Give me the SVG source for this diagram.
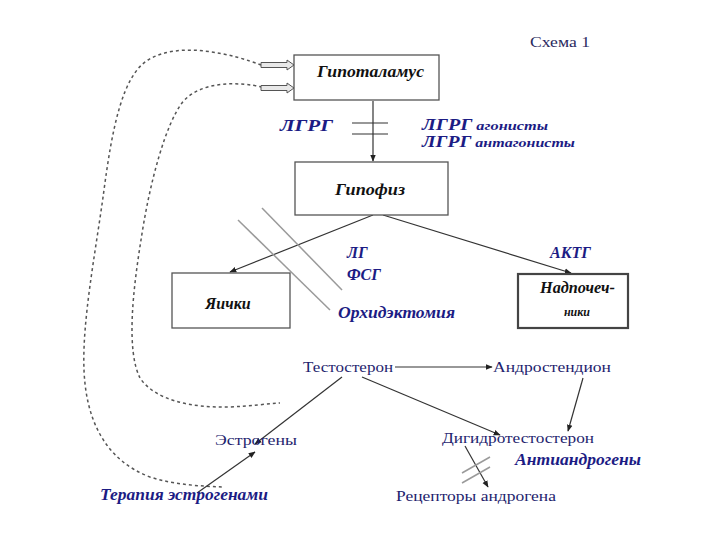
<svg xmlns="http://www.w3.org/2000/svg" width="720" height="540" viewBox="0 0 720 540">
<defs>
<style>
.box{fill:#fff;stroke:#555;stroke-width:1.3}
.boxb{fill:#fff;stroke:#444;stroke-width:2.2}
.bt{font-family:"Liberation Serif",serif;font-weight:bold;font-style:italic;font-size:16px;fill:#111}
.lb{font-family:"Liberation Serif",serif;font-weight:bold;font-style:italic;font-size:16px;fill:#1c1c84}
.rt{font-family:"Liberation Serif",serif;font-size:15px;fill:#1e1e6e}
.ln{fill:none;stroke:#333;stroke-width:1.2}
.gr{fill:none;stroke:#9a9a9a;stroke-width:1.5}
.ds{fill:none;stroke:#555;stroke-width:1.5;stroke-dasharray:3 3}
.ha{fill:#e8e8e8;stroke:#555;stroke-width:1}
</style>
<marker id="ar" viewBox="0 0 10 10" refX="9" refY="5" markerWidth="7" markerHeight="7" markerUnits="userSpaceOnUse" orient="auto">
<path d="M0,1 L10,5 L0,9 z" fill="#222"/>
</marker>
</defs>
<rect width="720" height="540" fill="#fff"/>

<text x="530" y="47" class="rt" style="font-size:15px;fill:#2a2a60" textLength="60" lengthAdjust="spacingAndGlyphs">Схема 1</text>

<g id="connectors">
<path class="ds" d="M261,65 C235,55 180,40 148,60 C122,76 112,130 104,190 C96,250 82,320 84,370 C86,420 105,460 150,477 C175,485 200,486 222,487"/>
<path class="ds" d="M262,87 C240,82 200,80 182,103 C166,124 150,180 141,240 C133,290 126,350 140,378 C155,400 190,408 230,407 C250,406 265,404 280,403"/>
<polygon class="ha" points="261,62.5 287,62.5 287,60 294,65 287,70 287,67.5 261,67.5"/>
<polygon class="ha" points="261,85.5 287,85.5 287,83 294,88 287,93 287,90.5 261,90.5"/>
<line class="ln" x1="373" y1="101" x2="373" y2="161" marker-end="url(#ar)"/>
<line class="ln" x1="352" y1="123" x2="388" y2="123"/>
<line class="ln" x1="352" y1="134" x2="388" y2="134"/>
<line class="ln" x1="373" y1="215" x2="230" y2="272" marker-end="url(#ar)"/>
<line class="ln" x1="383" y1="215" x2="571" y2="273" marker-end="url(#ar)"/>
<line class="gr" x1="238" y1="220" x2="330" y2="310"/>
<line class="gr" x1="262" y1="208" x2="342" y2="290"/>
<line class="ln" x1="395" y1="367" x2="492" y2="367" marker-end="url(#ar)"/>
<line class="ln" x1="342" y1="377" x2="255" y2="444" marker-end="url(#ar)"/>
<line class="ln" x1="362" y1="377" x2="500" y2="435" marker-end="url(#ar)"/>
<line class="ln" x1="583" y1="378" x2="568" y2="431" marker-end="url(#ar)"/>
<line class="ln" x1="197" y1="493" x2="255" y2="452" marker-end="url(#ar)"/>
<line class="ln" x1="465" y1="446" x2="488" y2="487" marker-end="url(#ar)"/>
<line class="gr" x1="462" y1="473" x2="490" y2="457"/>
<line class="gr" x1="462" y1="483" x2="490" y2="467"/>
</g>

<g id="hypothalamus">
<rect class="box" x="294" y="55" width="145" height="45"/>
<text class="bt" x="317" y="77" textLength="107" lengthAdjust="spacingAndGlyphs">Гипоталамус</text>
</g>

<g id="pituitary">
<rect class="box" x="295" y="162" width="153" height="53"/>
<text class="bt" x="335" y="195" textLength="70" lengthAdjust="spacingAndGlyphs">Гипофиз</text>
</g>

<g id="testes">
<rect class="box" x="172" y="273" width="118" height="55"/>
<text class="bt" x="228" y="309" text-anchor="middle">Яички</text>
</g>

<g id="adrenals">
<rect class="boxb" x="518" y="274" width="110" height="54"/>
<text class="bt" x="540" y="293" textLength="75" lengthAdjust="spacingAndGlyphs">Надпочеч-</text>
<text class="bt" x="577" y="316" text-anchor="middle" style="font-size:12px">ники</text>
</g>

<g id="labels">
<text class="lb" x="280" y="131" textLength="53" lengthAdjust="spacingAndGlyphs">ЛГРГ</text>
<text class="lb" x="422" y="130" textLength="126" lengthAdjust="spacingAndGlyphs"><tspan>ЛГРГ</tspan><tspan style="font-size:13px"> агонисты</tspan></text>
<text class="lb" x="422" y="147" textLength="153" lengthAdjust="spacingAndGlyphs"><tspan>ЛГРГ</tspan><tspan style="font-size:13px"> антагонисты</tspan></text>
<text class="lb" x="347" y="258">ЛГ</text>
<text class="lb" x="347" y="280">ФСГ</text>
<text class="lb" x="550" y="258">АКТГ</text>
<text class="lb" x="338" y="318" textLength="117" lengthAdjust="spacingAndGlyphs">Орхидэктомия</text>
</g>

<g id="testosterone"><text class="rt" x="303" y="372" textLength="90" lengthAdjust="spacingAndGlyphs">Тестостерон</text></g>
<g id="androstenedione"><text class="rt" x="493" y="372" textLength="118" lengthAdjust="spacingAndGlyphs">Андростендион</text></g>
<g id="estrogens"><text class="rt" x="215" y="445" textLength="82" lengthAdjust="spacingAndGlyphs">Эстрогены</text></g>
<g id="dht"><text class="rt" x="442" y="443" textLength="152" lengthAdjust="spacingAndGlyphs">Дигидротестостерон</text></g>
<g id="antiandrogens"><text class="lb" x="515" y="465" textLength="126" lengthAdjust="spacingAndGlyphs">Антиандрогены</text></g>
<g id="receptors"><text class="rt" x="396" y="501" textLength="160" lengthAdjust="spacingAndGlyphs">Рецепторы андрогена</text></g>
<g id="estrogen-therapy"><text class="lb" x="100" y="500" textLength="168" lengthAdjust="spacingAndGlyphs">Терапия эстрогенами</text></g>
</svg>
